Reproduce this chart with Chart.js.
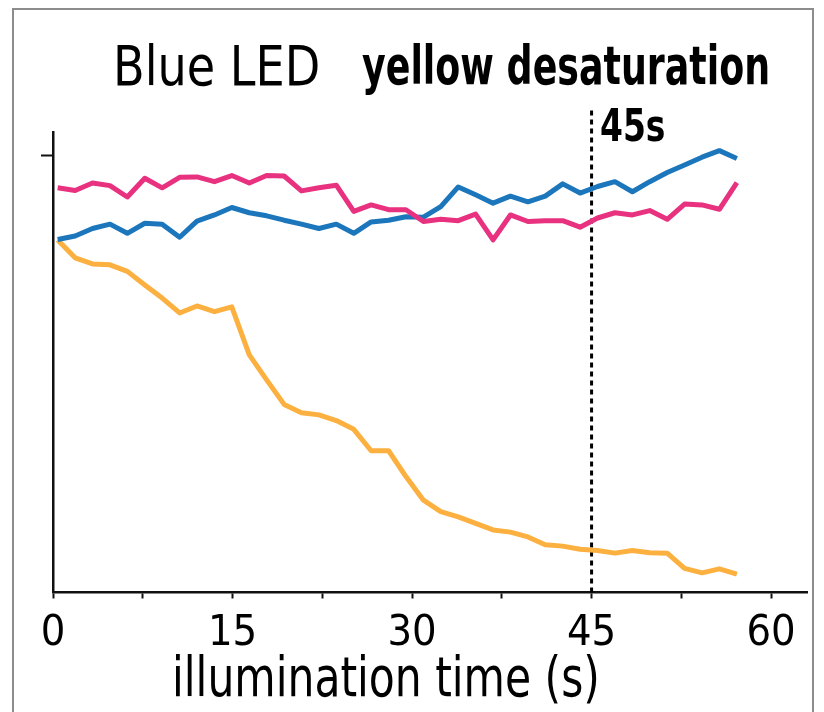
<!DOCTYPE html>
<html lang="en">
<head>
  <meta charset="UTF-8">
  <title>Blue LED - yellow desaturation</title>
  <script src="https://cdn.jsdelivr.net/npm/chart.js"></script>
  <style>
    body { margin: 0; background: #fff; }
    .wrap { position: relative; width: 824px; height: 712px; overflow: hidden; }
    .frame {
      position: absolute; left: 12px; top: 8px; width: 798px; height: 720px;
      border: 2px solid #8c8c8c; border-bottom: none;
    }
    .txt {
      position: absolute; white-space: nowrap; color: #000; line-height: 1;
      font-family: "DejaVu Sans Condensed", "Liberation Sans", sans-serif;
      transform-origin: 0 0;
    }
    #titleLeft { left: 113px; top: 38px; font-size: 56px; }
    #titleRight { left: 362px; top: 39px; font-size: 54px; font-weight: bold; }
    #mark45 { left: 600px; top: 103px; font-size: 45px; font-weight: bold; }
    #xTitle { left: 172px; top: 650px; font-size: 55px; }
    canvas { position: absolute; left: 0; top: 0; }
  </style>
</head>
<body>
  <div class="wrap">
    <div class="frame"></div>
    <canvas id="chart" width="824" height="712"></canvas>
    <!-- data-w: width the text takes in the picture, the font is squeezed to it -->
    <div class="txt" id="titleLeft" data-w="207">Blue LED</div>
    <div class="txt" id="titleRight" data-w="408">yellow desaturation</div>
    <div class="txt" id="mark45" data-w="65">45s</div>
    <div class="txt" id="xTitle" data-w="428">illumination time (s)</div>
  </div>

  <script>
    // sample times (s)
    const times = [0.39, 1.85, 3.30, 4.76, 6.21, 7.67, 9.12, 10.58, 12.03, 13.49,
                   14.94, 16.40, 17.85, 19.31, 20.76, 22.22, 23.67, 25.13, 26.58, 28.04,
                   29.49, 30.95, 32.40, 33.86, 35.31, 36.77, 38.22, 39.68, 41.13, 42.59,
                   44.04, 45.50, 46.95, 48.41, 49.86, 51.32, 52.77, 54.23, 55.68, 57.14];

    // relative signal, tick on the y axis = 1.0
    const magentaValues = [0.925, 0.919, 0.936, 0.930, 0.904, 0.947, 0.925, 0.949, 0.950, 0.939,
                           0.953, 0.936, 0.953, 0.952, 0.918, 0.925, 0.931, 0.871, 0.886, 0.875,
                           0.875, 0.848, 0.853, 0.850, 0.865, 0.806, 0.863, 0.848, 0.850, 0.850,
                           0.835, 0.856, 0.868, 0.863, 0.873, 0.853, 0.888, 0.886, 0.876, 0.937];
    const blueValues = [0.807, 0.815, 0.832, 0.842, 0.821, 0.844, 0.842, 0.812, 0.849, 0.863,
                        0.880, 0.868, 0.861, 0.851, 0.842, 0.832, 0.842, 0.821, 0.847, 0.851,
                        0.859, 0.858, 0.882, 0.927, 0.909, 0.890, 0.906, 0.893, 0.906, 0.934,
                        0.913, 0.928, 0.939, 0.916, 0.939, 0.960, 0.977, 0.995, 1.010, 0.992];
    const yellowValues = [0.806, 0.765, 0.751, 0.749, 0.734, 0.703, 0.673, 0.639, 0.655, 0.642,
                          0.653, 0.543, 0.486, 0.430, 0.411, 0.406, 0.393, 0.373, 0.324, 0.324,
                          0.265, 0.211, 0.185, 0.173, 0.158, 0.143, 0.138, 0.127, 0.109, 0.106,
                          0.099, 0.096, 0.090, 0.096, 0.091, 0.090, 0.055, 0.045, 0.054, 0.042];

    const xTicks = [0, 7.5, 15, 22.5, 30, 37.5, 45, 52.5, 60];
    const xLabeled = [0, 15, 30, 45, 60];
    const yTicks = [1];
    const markTime = 45;
    const markLine = [0, 1.107];

    const fontFamily = '"DejaVu Sans Condensed", "Liberation Sans", sans-serif';

    // squeeze the html texts to the widths they have in the picture
    document.querySelectorAll('.txt').forEach(el => {
      const k = Number(el.dataset.w) / el.offsetWidth;
      el.style.transform = 'scaleX(' + k.toFixed(3) + ')';
    });

    function toPoints(vals) {
      return vals.map((v, i) => ({ x: times[i], y: v }));
    }

    const ctx = document.getElementById('chart').getContext('2d');
    new Chart(ctx, {
      type: 'line',
      data: {
        datasets: [
          { label: 'magenta', data: toPoints(magentaValues), borderColor: '#e8317f', borderWidth: 5 },
          { label: 'blue', data: toPoints(blueValues), borderColor: '#1c76bc', borderWidth: 5 },
          { label: 'yellow', data: toPoints(yellowValues), borderColor: '#fbb040', borderWidth: 5 },
          {
            label: '45s',
            data: markLine.map(v => ({ x: markTime, y: v })),
            borderColor: '#000', borderWidth: 3, borderDash: [5, 4], clip: false
          }
        ]
      },
      options: {
        responsive: false,
        animation: false,
        layout: { padding: { left: 0, right: 17, top: 132, bottom: 0 } },
        elements: {
          point: { radius: 0 },
          line: { tension: 0, borderJoinStyle: 'round', fill: false }
        },
        plugins: { legend: { display: false }, tooltip: { enabled: false } },
        scales: {
          x: {
            type: 'linear',
            min: 0,
            max: 63,
            afterBuildTicks: s => { s.ticks = xTicks.map(v => ({ value: v })); },
            afterFit: s => { s.height = 119.5; },
            border: { display: true, color: '#111', width: 2.5 },
            grid: { drawOnChartArea: false, drawTicks: true, tickLength: 6, tickWidth: 2, tickColor: '#111' },
            ticks: {
              autoSkip: false, maxRotation: 0, padding: 10, color: '#000',
              font: { family: fontFamily, size: 43 },
              callback: v => xLabeled.includes(v) ? String(v) : ''
            }
          },
          y: {
            type: 'linear',
            min: 0,
            max: 1.0526,
            afterBuildTicks: s => { s.ticks = yTicks.map(v => ({ value: v })); },
            afterFit: s => { s.width = 53; },
            border: { display: true, color: '#111', width: 2.5 },
            grid: { drawOnChartArea: false, drawTicks: true, tickLength: 12, tickWidth: 2, tickColor: '#111' },
            ticks: { display: false }
          }
        }
      }
    });
  </script>
</body>
</html>
